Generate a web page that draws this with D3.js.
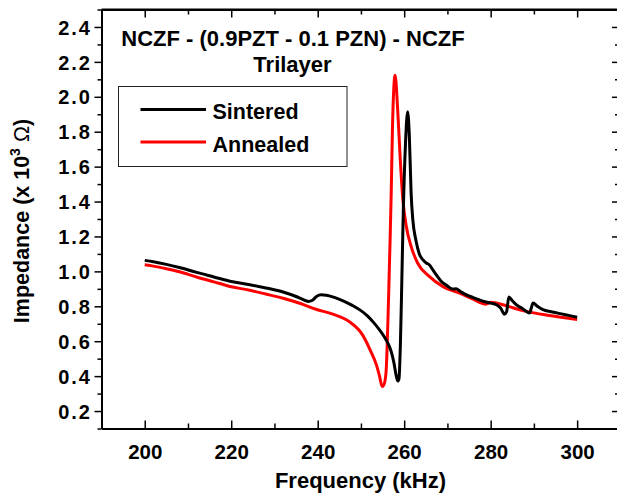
<!DOCTYPE html>
<html>
<head>
<meta charset="utf-8">
<script src="https://cdn.jsdelivr.net/npm/d3@7"></script>
<style>
  html, body { margin: 0; padding: 0; background: #fff; }
  svg { display: block; }
  text { font-family: "Liberation Sans", Arial, Helvetica, sans-serif; font-weight: bold; fill: #000; }
</style>
</head>
<body>
<svg id="chart" width="617" height="496"></svg>
<script>
// ---- data (frequency kHz, impedance x10^3 ohm) ----
const sinteredFreq = [200,202,205,208,212,216,220,224,228,232,235,236.5,237.8,238.8,239.8,240.8,242,244,246,248,250,251.5,253,254.3,255.4,256.3,257,257.6,258.1,258.5,258.8,259.1,259.4,259.8,260.3,260.8,261.2,261.6,262.0,262.7,263.5,264.3,265.1,265.8,266.6,267.4,268.5,269.7,271.2,272.0,273,274.3,276,278.2,280,281.3,282.3,283.2,283.7,284.2,285,285.9,287.5,289.0,289.4,289.8,290.8,292.1,294,296,298,300];
const sinteredZ    = [1.063,1.055,1.040,1.022,0.994,0.968,0.942,0.925,0.905,0.882,0.856,0.840,0.828,0.835,0.858,0.866,0.863,0.850,0.830,0.805,0.775,0.745,0.705,0.665,0.625,0.585,0.540,0.480,0.410,0.372,0.385,0.560,0.880,1.350,1.730,1.914,1.770,1.450,1.295,1.180,1.100,1.067,1.048,1.038,1.010,0.981,0.945,0.922,0.899,0.900,0.885,0.867,0.850,0.829,0.818,0.810,0.790,0.755,0.770,0.853,0.832,0.810,0.785,0.762,0.790,0.819,0.800,0.781,0.769,0.758,0.748,0.737];

const annealedFreq = [200,202,205,208,212,216,220,224,228,232,236,239.6,243.5,247.3,250.4,252.4,253.5,254.3,254.9,255.3,255.8,256.4,256.8,257.0,257.3,257.9,258.5,259.1,259.7,260.5,261.6,263.1,265.8,268.9,270.5,272.8,275.8,278.9,280.1,281.3,283.6,288.2,293.6,300];
const annealedZ    = [1.038,1.030,1.015,0.998,0.968,0.940,0.912,0.893,0.870,0.846,0.816,0.783,0.755,0.712,0.635,0.535,0.470,0.400,0.340,0.350,0.420,0.857,1.235,1.448,1.829,2.124,1.924,1.638,1.410,1.257,1.143,1.048,0.971,0.914,0.895,0.876,0.842,0.812,0.823,0.819,0.803,0.771,0.747,0.724];

const xMajorTicks = [200,220,240,260,280,300];
const xMinorTicks = [190,210,230,250,270,290,310];
const yMajorTicks = [0.2,0.4,0.6,0.8,1.0,1.2,1.4,1.6,1.8,2.0,2.2,2.4];
const yMinorTicks = [0.1,0.3,0.5,0.7,0.9,1.1,1.3,1.5,1.7,1.9,2.1,2.3,2.5];

const seriesNames  = ["Sintered","Annealed"];
const seriesColors = ["#000000","#ff0000"];
const titleLines   = ["NCZF - (0.9PZT - 0.1 PZN) - NCZF","Trilayer"];

// ---- layout ----
const svg = d3.select("#chart");
const L = 101.5, R = 618, T = 9.5, B = 428.5;
const x = d3.scaleLinear().domain([190, 309.45]).range([L, R]);
const y = d3.scaleLinear().domain([0.1, 2.5]).range([B, T]);

const series = [
  sinteredFreq.map((f,i)=>({f, z: sinteredZ[i]})),
  annealedFreq.map((f,i)=>({f, z: annealedZ[i]}))
];

// curves
const line = d3.line().x(d=>x(d.f)).y(d=>y(d.z)).curve(d3.curveMonotoneX);
svg.append("g").selectAll("path").data([series[1], series[0]]).join("path")
  .attr("d", line)
  .attr("fill","none")
  .attr("stroke",(d,i)=> i===0 ? seriesColors[1] : seriesColors[0])
  .attr("stroke-width",3)
  .attr("stroke-linejoin","round");

// axes
function styleAxis(g){
  g.select(".domain").attr("stroke","#000").attr("stroke-width",2);
  g.selectAll(".tick line").attr("stroke","#000").attr("stroke-width",1.5);
}
// bottom
svg.append("g").attr("transform",`translate(0,${B})`)
  .call(d3.axisBottom(x).tickValues(xMinorTicks).tickSize(-5).tickFormat("").tickSizeOuter(0))
  .call(styleAxis);
const gx = svg.append("g").attr("transform",`translate(0,${B})`)
  .call(d3.axisBottom(x).tickValues(xMajorTicks).tickSize(-8).tickPadding(15.5).tickFormat(d3.format("d")).tickSizeOuter(0))
  .call(styleAxis);
gx.selectAll(".tick text").attr("font-size",20.5).attr("font-family",null);
// top
svg.append("g").attr("transform",`translate(0,${T})`)
  .call(d3.axisTop(x).tickValues(xMinorTicks).tickSize(-5).tickFormat("").tickSizeOuter(0))
  .call(styleAxis);
svg.append("g").attr("transform",`translate(0,${T})`)
  .call(d3.axisTop(x).tickValues(xMajorTicks).tickSize(-8).tickFormat("").tickSizeOuter(0))
  .call(styleAxis);
// left
svg.append("g").attr("transform",`translate(${L},0)`)
  .call(d3.axisLeft(y).tickValues(yMinorTicks).tickSize(4).tickFormat("").tickSizeOuter(0))
  .call(styleAxis);
const gy = svg.append("g").attr("transform",`translate(${L},0)`)
  .call(d3.axisLeft(y).tickValues(yMajorTicks).tickSize(7).tickPadding(4).tickFormat(d3.format(".1f")).tickSizeOuter(0))
  .call(styleAxis);
gy.selectAll(".tick text").attr("font-size",20).attr("font-family",null)
  .attr("letter-spacing","2px").attr("dy","0.36em").attr("x",-9.5);
// right
svg.append("g").attr("transform",`translate(${R},0)`)
  .call(d3.axisRight(y).tickValues(yMinorTicks).tickSize(-3).tickFormat("").tickSizeOuter(0))
  .call(styleAxis);
svg.append("g").attr("transform",`translate(${R},0)`)
  .call(d3.axisRight(y).tickValues(yMajorTicks).tickSize(-6).tickFormat("").tickSizeOuter(0))
  .call(styleAxis);
// frame top line across whole width
svg.append("line").attr("x1",L).attr("x2",R).attr("y1",T).attr("y2",T).attr("stroke","#000").attr("stroke-width",2);

// axis titles
svg.append("text").attr("x",360.5).attr("y",488).attr("text-anchor","middle")
  .attr("font-size",22).text("Frequency (kHz)");
const yt = svg.append("text").attr("transform","translate(28.5,221) rotate(-90)")
  .attr("text-anchor","middle").attr("font-size",21.5);
yt.append("tspan").text("Impedance (x 10");
yt.append("tspan").attr("font-size",14).attr("dy",-9).text("3");
yt.append("tspan").attr("dy",9).text(" ");
yt.append("tspan").attr("font-weight","normal").text("Ω");
yt.append("tspan").text(")");

// chart title
svg.append("text").attr("x",293).attr("y",46).attr("text-anchor","middle")
  .attr("font-size",22).text(titleLines[0]);
svg.append("text").attr("x",292.5).attr("y",71.5).attr("text-anchor","middle")
  .attr("font-size",22).text(titleLines[1]);

// legend
const lg = svg.append("g");
lg.append("rect").attr("x",118.5).attr("y",86.5).attr("width",228.5).attr("height",80)
  .attr("fill","#fff").attr("stroke","#222").attr("stroke-width",1);
const legY = [109.5, 142];
seriesNames.forEach((n,i)=>{
  lg.append("line").attr("x1",140.5).attr("x2",206).attr("y1",legY[i]).attr("y2",legY[i])
    .attr("stroke",seriesColors[i]).attr("stroke-width",3);
  lg.append("text").attr("x",212.5).attr("y",legY[i]+9.5).attr("font-size",21.5).text(n);
});
</script>
</body>
</html>
